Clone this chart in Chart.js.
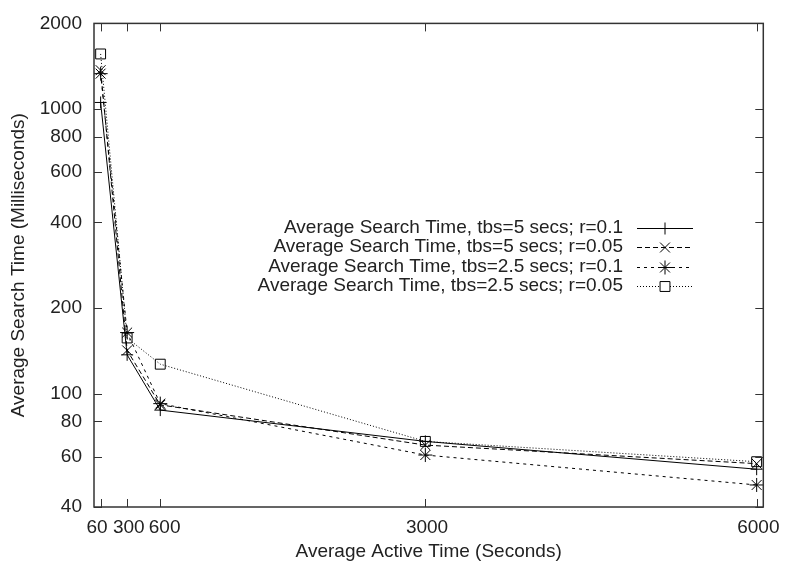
<!DOCTYPE html>
<html>
<head>
<meta charset="utf-8">
<script src="https://cdn.jsdelivr.net/npm/chart.js@4"></script>
<style>
  html, body { margin: 0; padding: 0; background: #fff; }
  #box { width: 787px; height: 565px; }
</style>
</head>
<body>
<div id="box"><canvas id="chart"></canvas></div>
<script>
// valori
const tempi = [60, 300, 600, 3000, 6000];
const tbs5r01 = [1055, 137, 87.6, 68, 54.3];
const tbs5r005 = [1370, 142, 91.4, 66, 56.8];
const tbs25r01 = [1332, 164, 92.3, 60.9, 47.8];
const tbs25r005 = [1562, 157, 127, 68, 57.7];
const ticksX = [60, 300, 600, 3000, 6000];
const ticksY = [40, 60, 80, 100, 200, 400, 600, 800, 1000, 2000];
const etichette = [
  'Average Search Time, tbs=5 secs; r=0.1',
  'Average Search Time, tbs=5 secs; r=0.05',
  'Average Search Time, tbs=2.5 secs; r=0.1',
  'Average Search Time, tbs=2.5 secs; r=0.05'
];

const FONT = '"Liberation Sans", Arial, sans-serif';
const testo = '#222';

function serie(i, valori, tratto, punto, raggio) {
  return {
    label: etichette[i],
    data: tempi.map((t, k) => ({ x: t, y: valori[k] })),
    borderColor: '#000',
    borderWidth: 1,
    borderDash: tratto,
    pointStyle: punto,
    pointRadius: raggio,
    pointBorderColor: '#000',
    pointBorderWidth: 1,
    pointBackgroundColor: 'rgba(0,0,0,0)',
    tension: 0
  };
}

const datasets = [
  serie(0, tbs5r01, [], 'cross', 6),
  serie(1, tbs5r005, [5, 3], 'crossRot', 7),
  serie(2, tbs25r01, [3, 4], 'star', 7),
  serie(3, tbs25r005, [1, 2], 'rect', 7)
];

// tacche interne su tutti e quattro i lati + cornice + legenda in stile gnuplot
const gnuplotStyle = {
  id: 'gnuplotStyle',
  afterDatasetsDraw(chart) {
    const ctx = chart.ctx;
    const a = chart.chartArea;
    const sx = chart.scales.x, sy = chart.scales.y;
    ctx.save();
    ctx.strokeStyle = '#333';
    ctx.lineWidth = 1;
    ctx.beginPath();
    ticksX.forEach(v => {
      const px = Math.round(sx.getPixelForValue(v)) + 0.5;
      ctx.moveTo(px, a.bottom); ctx.lineTo(px, a.bottom - 8);
      ctx.moveTo(px, a.top); ctx.lineTo(px, a.top + 8);
    });
    ticksY.forEach(v => {
      const py = Math.round(sy.getPixelForValue(v)) + 0.5;
      ctx.moveTo(a.left, py); ctx.lineTo(a.left + 8, py);
      ctx.moveTo(a.right, py); ctx.lineTo(a.right - 8, py);
    });
    ctx.stroke();
    ctx.lineWidth = 1.5;
    ctx.strokeRect(a.left, a.top, a.right - a.left, a.bottom - a.top);

    // legenda
    ctx.font = '19px ' + FONT;
    ctx.textAlign = 'right';
    ctx.textBaseline = 'middle';
    chart.data.datasets.forEach((ds, i) => {
      const y = 227.5 + i * 19.5;
      ctx.fillStyle = testo;
      ctx.fillText(ds.label, 623, y);
      ctx.strokeStyle = '#000';
      ctx.lineWidth = 1;
      ctx.setLineDash(ds.borderDash);
      ctx.beginPath();
      ctx.moveTo(637, Math.round(y) + 0.5);
      ctx.lineTo(693, Math.round(y) + 0.5);
      ctx.stroke();
      ctx.setLineDash([]);
      ctx.fillStyle = '#fff';
      Chart.helpers.drawPoint(ctx, { pointStyle: ds.pointStyle, radius: ds.pointRadius, rotation: 0, borderWidth: 1 }, 665, Math.round(y) + 0.5);
    });
    ctx.restore();
  }
};

// le etichette 60 e 600 sono un po' spostate come nell'originale
function etichettaX(v) {
  if (v === 60) return '60  ';
  if (v === 600) return ' 600';
  return String(v);
}

const chart = new Chart(document.getElementById('chart').getContext('2d'), {
  type: 'line',
  data: { datasets: datasets },
  plugins: [gnuplotStyle],
  options: {
    responsive: true,
    maintainAspectRatio: false,
    animation: false,
    layout: { padding: { top: 16, right: 20, left: 0, bottom: 0 } },
    plugins: { legend: { display: false }, tooltip: { enabled: false } },
    scales: {
      x: {
        type: 'linear',
        min: 0,
        max: 6060,
        afterBuildTicks: s => { s.ticks = ticksX.map(v => ({ value: v })); },
        afterFit: s => { s.height = 58; },
        grid: { display: false, drawTicks: false },
        border: { display: false },
        ticks: { color: testo, font: { family: FONT, size: 19 }, padding: 9, labelOffset: 1.7, maxRotation: 0, autoSkip: false, callback: etichettaX },
        title: { display: true, text: 'Average Active Time (Seconds)', color: testo, font: { family: FONT, size: 19 }, padding: { top: 0, bottom: 2 } }
      },
      y: {
        type: 'logarithmic',
        min: 40,
        max: 2000,
        afterBuildTicks: s => { s.ticks = ticksY.map(v => ({ value: v })); },
        afterFit: s => { s.width = 94; },
        grid: { display: false, drawTicks: false },
        border: { display: false },
        ticks: { color: testo, font: { family: FONT, size: 19 }, padding: 12, autoSkip: false, callback: v => String(v) },
        title: { display: true, text: 'Average Search Time (Milliseconds)', color: testo, font: { family: FONT, size: 19 }, padding: { top: 7, bottom: 0 } }
      }
    }
  }
});
</script>
</body>
</html>
